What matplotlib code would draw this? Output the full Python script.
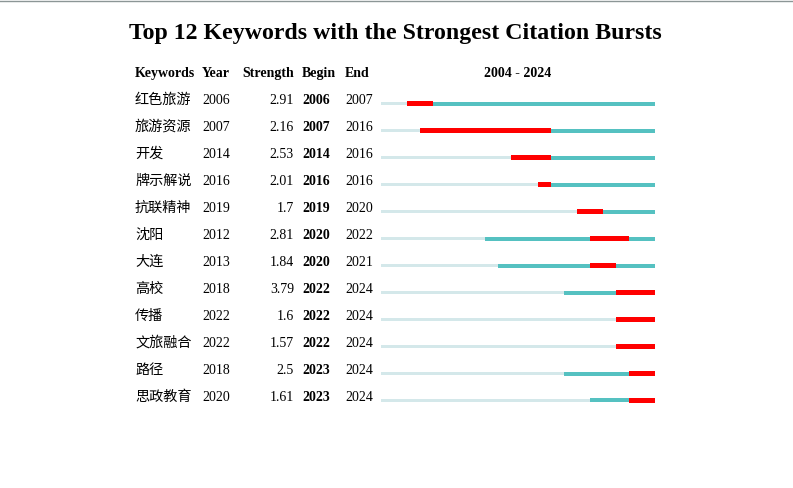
import matplotlib.pyplot as plt
from matplotlib.lines import Line2D

keywords = ['红色旅游', '旅游资源', '开发', '牌示解说', '抗联精神', '沈阳',
            '大连', '高校', '传播', '文旅融合', '路径', '思政教育']
years = [2006, 2007, 2014, 2016, 2019, 2012, 2013, 2018, 2022, 2022, 2018, 2020]
strength = ['2.91', '2.16', '2.53', '2.01', '1.7', '2.81', '1.84', '3.79',
            '1.6', '1.57', '2.5', '1.61']
begin = [2006, 2007, 2014, 2016, 2019, 2020, 2020, 2022, 2022, 2022, 2023, 2023]
end = [2007, 2016, 2016, 2016, 2020, 2022, 2021, 2024, 2024, 2024, 2024, 2024]
first_year, last_year = 2004, 2024

W, H = 793, 489
serif = ['Liberation Serif', 'DejaVu Serif']
cjk = ['Noto Sans CJK SC', 'DejaVu Sans']

fig = plt.figure(figsize=(W / 100, H / 100), dpi=100)

# thin gray rule across the top
fig.add_artist(Line2D([0, 1], [1 - 1.5 / H, 1 - 1.5 / H], color='#8c9696', lw=1.0))

fig.text(395.5 / W, 1 - 34 / H, 'Top 12 Keywords with the Strongest Citation Bursts',
         family=serif, weight='bold', fontsize=17.2, ha='center', va='center')

# header row
hy = 1 - 73.5 / H
fs = 10
fig.text(135 / W, hy, 'Keywords', family=serif, weight='bold', fontsize=fs, va='center')
fig.text(202 / W, hy, 'Year', family=serif, weight='bold', fontsize=fs, va='center')
fig.text(294 / W, hy, 'Strength', family=serif, weight='bold', fontsize=fs, va='center', ha='right')
fig.text(302 / W, hy, 'Begin', family=serif, weight='bold', fontsize=fs, va='center')
fig.text(345 / W, hy, 'End', family=serif, weight='bold', fontsize=fs, va='center')
fig.text(518 / W, hy, '%d - %d' % (first_year, last_year), family=serif, weight='bold',
         fontsize=fs, va='center', ha='center')

# table rows
for i, kw in enumerate(keywords):
    y = 1 - (100.5 + 27 * i) / H
    fig.text(135 / W, 1 - (100 + 27 * i) / H, kw, family=cjk, fontsize=10.2, va='center')
    fig.text(202 / W, y, str(years[i]), family=serif, fontsize=fs, va='center')
    fig.text(294 / W, y, strength[i], family=serif, fontsize=fs, va='center', ha='right')
    fig.text(302 / W, y, str(begin[i]), family=serif, weight='bold', fontsize=fs, va='center')
    fig.text(345 / W, y, str(end[i]), family=serif, fontsize=fs, va='center')

# burst bars
top_px, bot_px = 104.5 - 13.5, 104.5 + 27 * 11 + 13.5
ax = fig.add_axes([381 / W, 1 - bot_px / H, 274 / W, (bot_px - top_px) / H])
ax.set_xlim(first_year, last_year + 1)
ax.set_ylim(len(keywords) - 0.5, -0.5)
ax.axis('off')

px = 1 / 27  # one pixel in row units
for i in range(len(keywords)):
    ax.barh(i, years[i] - first_year, left=first_year, height=3 * px, color='#d4e8ea', lw=0)
    ax.barh(i, last_year + 1 - years[i], left=years[i], height=4 * px, color='#55c1c1', lw=0)
    ax.barh(i, end[i] + 1 - begin[i], left=begin[i], height=5.5 * px, color='#ff0000', lw=0)

fig.savefig('out.png', dpi=100)
